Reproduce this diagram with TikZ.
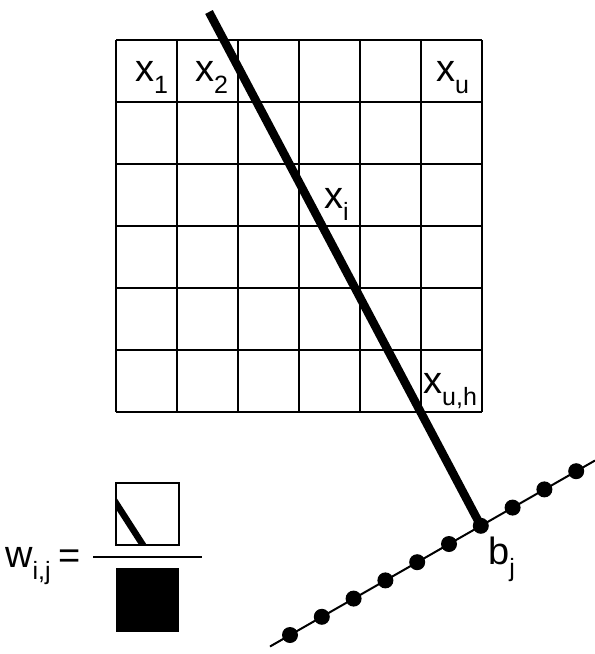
\documentclass[tikz,border=0pt]{standalone}
\usepackage{fontspec}
\setmainfont{Liberation Sans}
\usetikzlibrary{calc}
\definecolor{inkblack}{RGB}{0,0,0}

\newcommand{\symsub}[2]{#1\raisebox{-12pt}{\fontsize{25}{25}\selectfont #2}}

\begin{document}
\begin{tikzpicture}[x=1pt, y=-1pt,
    every node/.style={font=\fontsize{38}{38}\selectfont, inner sep=0pt},
    gridline/.style={inkblack, line width=2pt},
    sample/.style={circle, fill=inkblack, minimum size=16pt, inner sep=0pt}]
        \useasboundingbox (0,0) rectangle (595,654);

        % Pixel grid
        \foreach \i in {0,...,6} {
          \draw[gridline] (116+61*\i,40) -- (116+61*\i,412);
          \draw[gridline] (116,40+62*\i) -- (482,40+62*\i);
        }

        % Pixel labels
        \node[anchor=base west] (x1) at (135,81) {\symsub{x}{1}};
        \node[anchor=base west] (x2) at (195,81) {\symsub{x}{2}};
        \node[anchor=base west] (xu) at (436,81) {\symsub{x}{u}};
        \node[anchor=base west] (xi) at (324,208) {\symsub{x}{i}};
        \node[anchor=base west] (xuh) at (423,393) {\symsub{x}{u,h}};

        % Detector line with bins
        \coordinate (lstart) at (270,646.5);
        \coordinate (lend) at (595,460.5);
        \draw[inkblack, line width=2pt] (lstart) -- (lend);
        \foreach \k in {0,...,9}
          \node[sample] (d\k) at ({290+31.8*\k},{635-18.2*\k}) {};
        \node[anchor=base west] (bj) at (488,564) {\symsub{b}{j}};

        % Ray through the grid
        \coordinate (ray) at (209,12);
        \draw[inkblack, line width=8.5pt] (ray) -- (d6.center);

        % Weight as a fraction of areas
        \node[anchor=base west] (w) at (5,567) {\symsub{w}{i,j}};
        \node[anchor=base west] (eq) at (58,568) {=};
        \draw[inkblack, line width=2pt] (93,557) -- (202,557);
        \begin{scope}
          \clip (116,483) rectangle (179,545);
          \draw[inkblack, line width=6.5pt] (105,486) -- (150,556);
        \end{scope}
        \draw[gridline] (116,483) rectangle (179,545);
        \fill[inkblack] (116,568) rectangle (179,632);
      \end{tikzpicture}
\end{document}
